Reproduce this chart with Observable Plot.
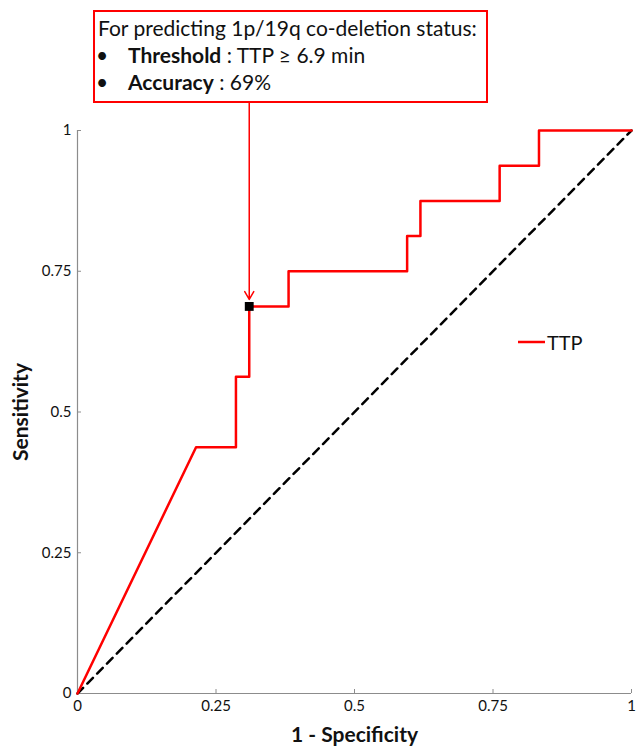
<!DOCTYPE html>
<html>
<head>
<meta charset="utf-8">
<script src="https://cdn.jsdelivr.net/npm/d3@7"></script>
<script src="https://cdn.jsdelivr.net/npm/@observablehq/plot@0.6"></script>
<style>
  html, body { margin: 0; padding: 0; background: #fff; }
  #wrap { position: relative; width: 641px; height: 754px; font-family: Lato, "Open Sans", sans-serif; }
  #note { position: absolute; left: 93px; top: 10px; width: 391px; height: 89px; border: 2px solid #ff0000; box-sizing: content-box; font-size: 21px; line-height: 24px; color: #111; }
  #note .l { position: absolute; white-space: nowrap; }
  #legend { position: absolute; left: 518px; top: 329px; height: 26px; display: flex; align-items: center; font-size: 20px; color: #111; }
</style>
</head>
<body>
<div id="wrap">
  <div id="chart"></div>
  <div id="note"></div>
  <div id="legend"></div>
</div>
<script>
// ROC curve vertices (1 - specificity, sensitivity)
const fpr = [0, 0.214, 0.286, 0.286, 0.310, 0.310, 0.381, 0.381, 0.595, 0.595, 0.619, 0.619, 0.762, 0.762, 0.833, 0.833, 1];
const tpr = [0, 0.4375, 0.4375, 0.5625, 0.5625, 0.6875, 0.6875, 0.75, 0.75, 0.8125, 0.8125, 0.875, 0.875, 0.9375, 0.9375, 1, 1];
const seriesName = "TTP";
// chance diagonal
const chanceX = [0, 1];
const chanceY = [0, 1];
// optimal threshold point
const thresholdX = [0.310];
const thresholdY = [0.6875];
const tickValues = [0, 0.25, 0.5, 0.75, 1];
const tickLabels = ["0", "0.25", "0.5", "0.75", "1"];
const noteTitle = "For predicting 1p/19q co-deletion status:";
const noteItems = [["Threshold", " : TTP \u2265 6.9 min"], ["Accuracy", " : 69%"]];
const xTitle = "1 - Specificity";
const yTitle = "Sensitivity";
const annotationTop = 1.05; // arrow start, just below the note box

const roc = fpr.map((x, i) => ({x, y: tpr[i]}));
const chance = chanceX.map((x, i) => ({x, y: chanceY[i]}));
const thr = thresholdX.map((x, i) => ({x, y: thresholdY[i]}));

const axisColor = "#8c8c8c";
const fmt = (d) => tickLabels[tickValues.indexOf(d)];
const chart = Plot.plot({
  width: 641,
  height: 754,
  marginLeft: 77,
  marginRight: 10,
  marginTop: 130,
  marginBottom: 61,
  style: {fontFamily: "Lato, 'Open Sans', sans-serif", fontSize: "15px", color: "#111", background: "#fff"},
  x: {domain: [0, 1]},
  y: {domain: [0, 1]},
  marks: [
    Plot.ruleX([0], {stroke: axisColor, strokeWidth: 1.2}),
    Plot.ruleY([0], {stroke: axisColor, strokeWidth: 1.2}),
    Plot.axisX({ticks: tickValues, tickFormat: fmt, tickSize: -4, stroke: axisColor, tickPadding: 11, label: null, fontSize: 15}),
    Plot.axisY({ticks: tickValues, tickFormat: fmt, tickSize: -4, stroke: axisColor, tickPadding: 10, label: null, fontSize: 15}),
    Plot.line(chance, {x: "x", y: "y", stroke: "#000", strokeWidth: 2.5, strokeDasharray: "8,6"}),
    Plot.line(roc, {x: "x", y: "y", stroke: "#ff0000", strokeWidth: 2.5}),
    Plot.arrow(thr, {x1: "x", x2: "x", y1: () => annotationTop, y2: "y", stroke: "#ff0000", strokeWidth: 1.5, headLength: 9, insetEnd: 7}),
    Plot.dot(thr, {x: "x", y: "y", symbol: "square", fill: "#000", r: 5}),
    Plot.text([xTitle], {frameAnchor: "bottom", dy: 48, fontWeight: "bold", fontSize: 21, fill: "#111"}),
    Plot.text([yTitle], {frameAnchor: "left", textAnchor: "middle", dx: -56, rotate: -90, fontWeight: "bold", fontSize: 21, fill: "#111"})
  ]
});
document.getElementById("chart").appendChild(chart);

// annotation box
const note = d3.select("#note");
note.append("div").attr("class", "l").style("left", "3px").style("top", "4px").text(noteTitle);
noteItems.forEach(([b, rest], i) => {
  const top = 31 + i * 27;
  note.append("div").attr("class", "l").style("left", "1px").style("top", top + "px").text("\u2022");
  const line = note.append("div").attr("class", "l").style("left", "33px").style("top", top + "px");
  line.append("b").text(b);
  line.append("span").text(rest);
});

// legend
const lg = d3.select("#legend");
lg.append("svg").attr("width", 27).attr("height", 4).style("margin-right", "2px")
  .append("line").attr("x1", 0).attr("x2", 27).attr("y1", 2).attr("y2", 2).attr("stroke", "#ff0000").attr("stroke-width", 2.5);
lg.append("span").text(seriesName);
</script>
</body>
</html>
